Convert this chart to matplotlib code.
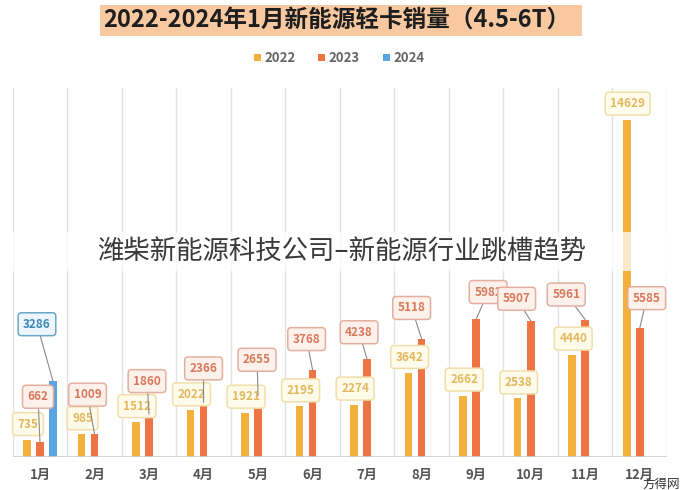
import matplotlib
matplotlib.use('Agg')
import matplotlib.pyplot as plt
from matplotlib.patches import Rectangle
import numpy as np

plt.rcParams['font.family'] = ['Noto Sans CJK SC', 'DejaVu Sans']

months = ['1月', '2月', '3月', '4月', '5月', '6月', '7月', '8月', '9月', '10月', '11月', '12月']
sales_2022 = [735, 985, 1512, 2022, 1921, 2195, 2274, 3642, 2662, 2538, 4440, 14629]
sales_2023 = [662, 1009, 1860, 2366, 2655, 3768, 4238, 5118, 5982, 5907, 5961, 5585]
sales_2024 = [3286]
years = ['2022', '2023', '2024']

title = '2022-2024年1月新能源轻卡销量（4.5-6T）'
overlay = '潍柴新能源科技公司–新能源行业跳槽趋势'

# label nudges in pixels (right, up) for the moved 2023 / 2024 labels
off_2023 = [(-2, 45), (-7, 39), (-2, 33), (0, 34), (-1, 36), (-6, 31),
            (-8, 27), (-10, 31), (12, 27), (-14, 22), (-19, 25), (7, 30)]
off_2024 = [(-16, 57)]

c22, c23, c24 = '#f3b03d', '#ef7443', '#5aa3e4'
styles = {
    '2022': dict(fc='#fffbeb', ec='#f1dfaa', tc='#e3b85e'),
    '2023': dict(fc='#fdf1ec', ec='#e3b0a0', tc='#d9785a'),
    '2024': dict(fc='#ecf6fc', ec='#6aa8c8', tc='#3a88bb'),
}

W, H = 682, 490
fig = plt.figure(figsize=(W / 100, H / 100), dpi=100)
ax = fig.add_axes([12.7 / W, 33 / H, (667 - 12.7) / W, (457 - 88) / H])

x = np.arange(len(months))
bw = 0.14
off = 13 / 54.5
ax.bar(x - off, sales_2022, bw, color=c22, zorder=3)
ax.bar(x, sales_2023, bw, color=c23, zorder=3)
ax.bar(x[:len(sales_2024)] + off, sales_2024, bw, color=c24, zorder=3)

ax.set_xlim(-0.5, len(months) - 0.5)
ax.set_ylim(0, 16000)
for k in range(len(months) + 1):
    ax.axvline(k - 0.5, color='#e2e2e2', lw=1, zorder=1)
ax.axhline(0, color='#cfcfcf', lw=1.2, zorder=4)
for s in ax.spines.values():
    s.set_visible(False)
ax.set_yticks([])
ax.set_xticks(x)
ax.set_xticklabels(months, fontsize=9.5, color='#555555', fontweight='bold')
ax.tick_params(axis='x', length=0, pad=8)


def boxed(xv, yv, val, style, dx, dy, line):
    st = styles[style]
    ax.annotate(str(val), xy=(xv, yv), xytext=(dx * 0.72, dy * 0.72),
                textcoords='offset points', ha='center', va='center',
                fontsize=8.5, color=st['tc'], fontweight='bold', zorder=6,
                bbox=dict(boxstyle='round,pad=0.42,rounding_size=0.3',
                          fc=st['fc'], ec=st['ec'], lw=1.1),
                arrowprops=dict(arrowstyle='-', color='#8a8a8a', lw=0.8,
                                shrinkA=0, shrinkB=0) if line else None)


for i, v in enumerate(sales_2022):
    boxed(x[i] - off, v, v, '2022', 1, 16, False)
for i, v in enumerate(sales_2023):
    dx, dy = off_2023[i]
    boxed(x[i], v, v, '2023', dx, dy, True)
for i, v in enumerate(sales_2024):
    dx, dy = off_2024[i]
    boxed(x[i] + off, v, v, '2024', dx, dy, True)

# title band
fig.patches.append(Rectangle((100 / W, 1 - 36 / H), 482 / W, 31 / H,
                             transform=fig.transFigure, fc='#f8c9a0', ec='none'))
fig.text(337 / W, 1 - 20 / H, title, ha='center', va='center',
         fontsize=17, fontweight='heavy', color='#1e1e1e')

# legend
lx = [262, 326, 391]
for j, (yr, col) in enumerate(zip(years, [c22, c23, c24])):
    fig.patches.append(Rectangle(((lx[j] - 8) / W, 1 - 61 / H), 7 / W, 7 / H,
                                 transform=fig.transFigure, fc=col, ec='none'))
    fig.text((lx[j] + 2) / W, 1 - 57.5 / H, yr, ha='left', va='center',
             fontsize=9.5, color='#666666', fontweight='bold')

# overlay band with watermark text
fig.patches.append(Rectangle((0, 1 - 271 / H), 1, 39 / H, transform=fig.transFigure,
                             fc='white', ec='none', alpha=0.72, zorder=10))
fig.text(342 / W, 1 - 252 / H, overlay, ha='center', va='center', fontsize=19,
         color='#3a3a3a', fontweight='light', zorder=11)

fig.text(680 / W, 1 - 484 / H, '方得网', ha='right', va='center', fontsize=9,
         color='#333333', style='italic', zorder=11)

fig.savefig('out.png', dpi=100, facecolor='white')
